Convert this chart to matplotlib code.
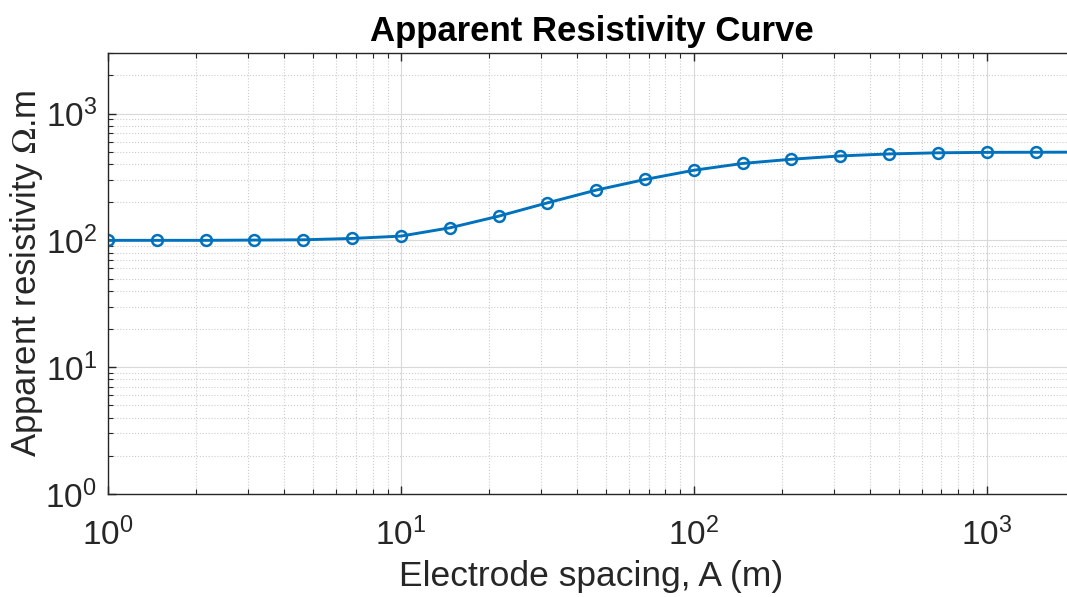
import matplotlib.pyplot as plt

plt.rcParams['font.family'] = ['Liberation Sans', 'DejaVu Sans']
plt.rcParams['mathtext.fontset'] = 'stix'

# elektrodeavstand (m) og tilsynelatende resistivitet (ohm.m), lest av bildet
spacing = [1, 1.468, 2.154, 3.162, 4.642, 6.813, 10, 14.68, 21.54, 31.62,
           46.42, 68.13, 100, 146.8, 215.4, 316.2, 464.2, 681.3, 1000, 1468, 2154]
resistivity = [100, 100, 100, 100.5, 101, 103.5, 108, 125.5, 155, 197.5,
               249, 302, 357, 404, 436, 463, 480, 490, 494, 495, 496]

fig = plt.figure(figsize=(10.67, 5.97), dpi=100)
ax = fig.add_axes([108 / 1067, 1 - 494 / 597, (1075 - 108) / 1067, (494 - 53) / 597])

farge = '#0072BD'
ax.plot(spacing, resistivity, color=farge, linewidth=2.1, marker='o',
        markersize=7.8, markerfacecolor='none', markeredgewidth=1.8)

ax.set_xscale('log')
ax.set_yscale('log')
ax.set_xlim(1, 2000)
ax.set_ylim(1, 3000)

ax.grid(True, which='major', color='#d9d9d9', linestyle='-', linewidth=0.8)
ax.grid(True, which='minor', color='#cccccc', linestyle=':', linewidth=0.8)
ax.set_axisbelow(True)

ax.tick_params(which='both', direction='in', top=True, right=True, colors='#262626')
ax.tick_params(which='major', length=6, width=1, labelsize=24)
ax.tick_params(axis='x', which='major', pad=17)
ax.tick_params(axis='y', which='major', pad=8)
ax.tick_params(which='minor', length=3.5, width=0.8)
for s in ax.spines.values():
    s.set_color('#262626')
    s.set_linewidth(1)

ax.set_xlabel('Electrode spacing, A (m)', fontsize=25.5, color='#262626', labelpad=6)
ax.set_ylabel(r'Apparent resistivity $\Omega$.m', fontsize=25, color='#262626', labelpad=0)
ax.set_title('Apparent Resistivity Curve', fontsize=25, fontweight='bold', pad=9)

fig.savefig('out.png', dpi=100)
